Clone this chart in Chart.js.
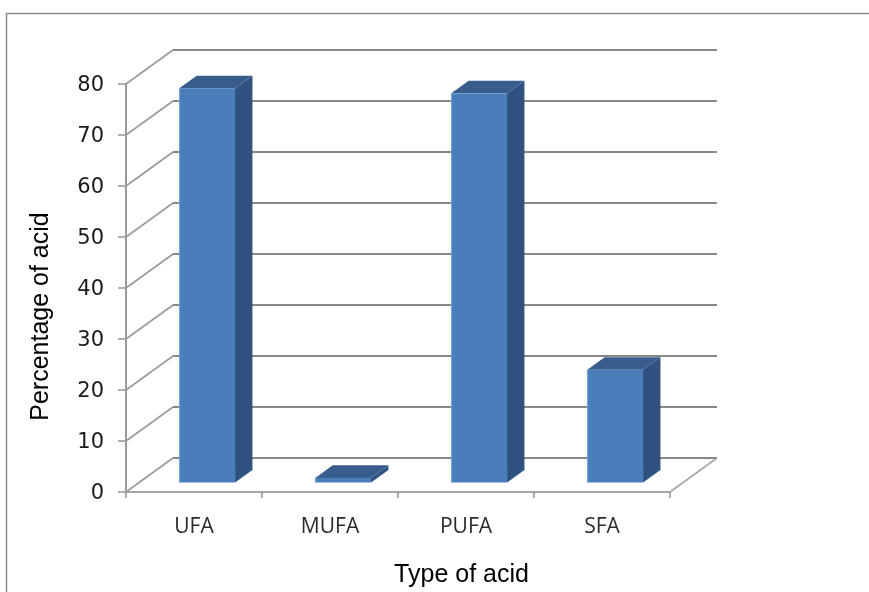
<!DOCTYPE html>
<html>
<head>
<meta charset="utf-8">
<script src="https://cdn.jsdelivr.net/npm/chart.js@4.4.1/dist/chart.umd.min.js"></script>
<style>
  html, body { margin: 0; padding: 0; background: #fff; }
  #wrap { width: 869px; height: 592px; position: relative; }
</style>
</head>
<body>
<div id="wrap"><canvas id="c"></canvas></div>
<script>
// Fatty acid composition (% of total)
const categories = ['UFA', 'MUFA', 'PUFA', 'SFA'];
const percentages = [77.3, 0.9, 76.3, 22.1];
const yTickValues = [0, 10, 20, 30, 40, 50, 60, 70, 80];
const xTitle = 'Type of acid';
const yTitle = 'Percentage of acid';

// Oblique depth of the plot box and the slice of it that the bars occupy
const DEPTH = { x: 47, y: -34 };
const BAR_FRONT = 0.28;
const BAR_BACK = 0.65;

const COLORS = {
  front: '#4a7ebb',
  frontEdge: '#6c9bd3',
  side: '#2f5281',
  top: '#385d8c',
  grid: '#888888',
  wall: '#9a9a9a',
  frame: '#8c8c8c'
};

function line(ctx, x1, y1, x2, y2) {
  ctx.beginPath();
  ctx.moveTo(x1, y1);
  ctx.lineTo(x2, y2);
  ctx.stroke();
}

function poly(ctx, pts, fill) {
  ctx.beginPath();
  ctx.moveTo(pts[0][0], pts[0][1]);
  for (let i = 1; i < pts.length; i++) ctx.lineTo(pts[i][0], pts[i][1]);
  ctx.closePath();
  ctx.fillStyle = fill;
  ctx.fill();
}

const box3d = {
  id: 'box3d',
  beforeDraw(chart) {
    const { ctx } = chart;
    ctx.save();
    ctx.fillStyle = '#fff';
    ctx.fillRect(0, 0, chart.width, chart.height);
    ctx.strokeStyle = COLORS.frame;
    ctx.lineWidth = 1.5;
    ctx.strokeRect(6.5, 13.5, chart.width + 20, chart.height + 20);
    ctx.restore();
  },
  beforeDatasetsDraw(chart) {
    const { ctx, scales: { x, y } } = chart;
    const L = x.getPixelForValue(-0.5);
    const R = x.getPixelForValue(categories.length - 0.5);
    const y0 = y.getPixelForValue(0);
    ctx.save();
    ctx.lineCap = 'butt';
    yTickValues.forEach(v => {
      const py = y.getPixelForValue(v);
      // side wall
      ctx.strokeStyle = COLORS.wall;
      ctx.lineWidth = 1.6;
      line(ctx, L, py, L + DEPTH.x, py + DEPTH.y);
      // back wall
      ctx.strokeStyle = COLORS.grid;
      ctx.lineWidth = 2;
      line(ctx, L + DEPTH.x, py + DEPTH.y, R + DEPTH.x, py + DEPTH.y);
      // value tick mark
      ctx.strokeStyle = COLORS.wall;
      ctx.lineWidth = 1.6;
      line(ctx, L - 8, py, L, py);
    });
    // value axis
    ctx.strokeStyle = COLORS.wall;
    ctx.lineWidth = 2;
    line(ctx, L, y.getPixelForValue(80), L, y0);
    // floor: front and right edges
    ctx.strokeStyle = '#a6a6a6';
    ctx.lineWidth = 2;
    line(ctx, L, y0, R, y0);
    ctx.lineWidth = 1.6;
    line(ctx, R, y0, R + DEPTH.x, y0 + DEPTH.y);
    // category separators
    ctx.strokeStyle = COLORS.wall;
    ctx.lineWidth = 1.6;
    for (let i = 0; i <= categories.length; i++) {
      const px = x.getPixelForValue(i - 0.5);
      line(ctx, px, y0, px, y0 + 6);
    }
    ctx.restore();
  },
  afterDatasetsDraw(chart) {
    const { ctx } = chart;
    const meta = chart.getDatasetMeta(0);
    const fx = BAR_FRONT * DEPTH.x, fy = BAR_FRONT * DEPTH.y;
    const dx = (BAR_BACK - BAR_FRONT) * DEPTH.x, dy = (BAR_BACK - BAR_FRONT) * DEPTH.y;
    ctx.save();
    meta.data.forEach(el => {
      const p = el.getProps(['x', 'y', 'base', 'width'], true);
      const xl = p.x - p.width / 2 + fx;
      const xr = p.x + p.width / 2 + fx;
      const yt = p.y + fy;
      const yb = p.base + fy;
      poly(ctx, [[xr, yt], [xr + dx, yt + dy], [xr + dx, yb + dy], [xr, yb]], COLORS.side);
      poly(ctx, [[xl, yt], [xr, yt], [xr + dx, yt + dy], [xl + dx, yt + dy]], COLORS.top);
      ctx.fillStyle = COLORS.front;
      ctx.fillRect(xl, yt, xr - xl, yb - yt);
      if (yb - yt > 3) {
        ctx.strokeStyle = COLORS.frontEdge;
        ctx.lineWidth = 1;
        line(ctx, xl + 0.5, yt + 1, xl + 0.5, yb);
      }
    });
    ctx.restore();
  },
  afterDraw(chart) {
    const { ctx } = chart;
    ctx.save();
    ctx.fillStyle = '#000';
    ctx.font = '25px "Liberation Sans", Arial, sans-serif';
    ctx.textAlign = 'center';
    ctx.textBaseline = 'alphabetic';
    ctx.fillText(xTitle, 461.5, 582);
    ctx.translate(48, 316.5);
    ctx.rotate(-Math.PI / 2);
    ctx.fillText(yTitle, 0, 0);
    ctx.restore();
  }
};

new Chart(document.getElementById('c'), {
  type: 'bar',
  data: {
    labels: categories,
    datasets: [{
      data: percentages,
      backgroundColor: 'rgba(0,0,0,0)',
      borderWidth: 0,
      barPercentage: 0.41,
      categoryPercentage: 1
    }]
  },
  options: {
    responsive: true,
    maintainAspectRatio: false,
    animation: false,
    devicePixelRatio: 1,
    layout: { padding: { left: 0, right: 199, top: 84, bottom: 0 } },
    plugins: { legend: { display: false }, tooltip: { enabled: false } },
    scales: {
      x: {
        grid: { display: false, drawTicks: false },
        border: { display: false },
        ticks: {
          color: '#2b2b2b',
          padding: 22,
          font: { family: '"Open Sans", sans-serif', size: 21 }
        },
        afterFit(scale) { scale.height = 100; }
      },
      y: {
        min: 0,
        max: 80,
        afterBuildTicks(scale) { scale.ticks = yTickValues.map(v => ({ value: v })); },
        grid: { display: false, drawTicks: false },
        border: { display: false },
        ticks: {
          color: '#1a1a1a',
          padding: 22,
          labelOffset: 2,
          font: { family: '"DejaVu Sans", sans-serif', size: 21 }
        },
        afterFit(scale) { scale.width = 126; }
      }
    }
  },
  plugins: [box3d]
});
</script>
</body>
</html>
